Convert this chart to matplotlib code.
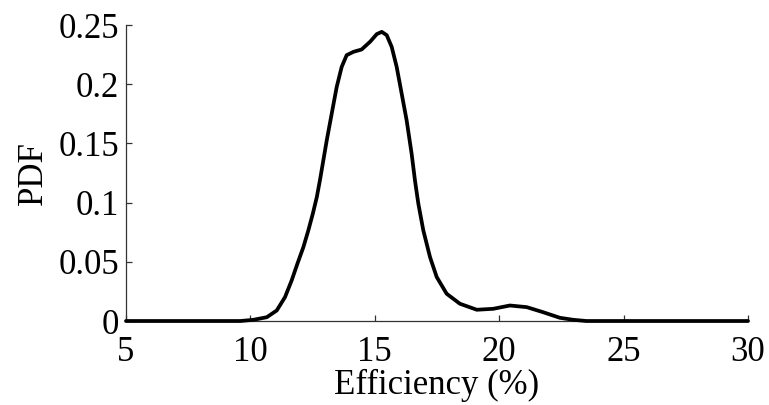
import matplotlib
matplotlib.use("Agg")
from matplotlib import pyplot as plt

# efficiency (%) and pdf values
eff = [5.0, 9.6, 10.12, 10.66, 11.06, 11.39, 11.66, 11.89, 12.13, 12.33,
       12.51, 12.67, 12.80, 13.07, 13.27, 13.47, 13.67, 13.87, 14.14, 14.47,
       14.81, 15.08, 15.28, 15.48, 15.68, 15.88, 16.08, 16.28, 16.48, 16.62,
       16.75, 16.95, 17.22, 17.49, 17.89, 18.42, 19.10, 19.76, 20.43, 21.11,
       21.77, 22.44, 22.98, 23.5, 30.0]
pdf = [0.0, 0.0, 0.0010, 0.0032, 0.0089, 0.0201, 0.0343, 0.0484, 0.0624, 0.0766,
       0.0907, 0.1047, 0.1194, 0.1527, 0.1753, 0.1978, 0.2147, 0.2246, 0.2274, 0.2294,
       0.2359, 0.2424, 0.2443, 0.2415, 0.2316, 0.2147, 0.1922, 0.1696, 0.1415, 0.1180,
       0.0992, 0.0766, 0.0540, 0.0371, 0.0230, 0.0146, 0.0095, 0.0103, 0.0131, 0.0117,
       0.0074, 0.0027, 0.0010, 0.0, 0.0]

xticks = [5, 10, 15, 20, 25, 30]
yticks = [0, 0.05, 0.1, 0.15, 0.2, 0.25]
yticklabels = ["0", "0.05", "0.1", "0.15", "0.2", "0.25"]

plt.rcParams["font.family"] = ["Liberation Serif", "DejaVu Serif"]

fig = plt.figure(figsize=(7.69, 4.05), dpi=100)
ax = fig.add_axes([0.1638, 0.2074, 0.8089, 0.7306])

ax.plot(eff, pdf, color="black", linewidth=2.7, solid_joinstyle="round",
        solid_capstyle="round", clip_on=False, zorder=3)

ax.set_xlim(5, 30)
ax.set_ylim(0, 0.25)
ax.set_xticks(xticks)
ax.set_yticks(yticks)
ax.set_yticklabels(yticklabels)

for s in ["top", "right"]:
    ax.spines[s].set_visible(False)
for s in ["left", "bottom"]:
    ax.spines[s].set_color("#333333")
    ax.spines[s].set_linewidth(0.9)

ax.tick_params(direction="in", length=4, width=0.9, color="#333333",
               labelsize=25)
ax.tick_params(axis="x", pad=11)
ax.tick_params(axis="y", pad=5)

ax.set_xlabel("Efficiency (%)", fontsize=25, labelpad=0)
ax.set_ylabel("PDF", fontsize=25, labelpad=6)

fig.savefig("out.png", dpi=100)
